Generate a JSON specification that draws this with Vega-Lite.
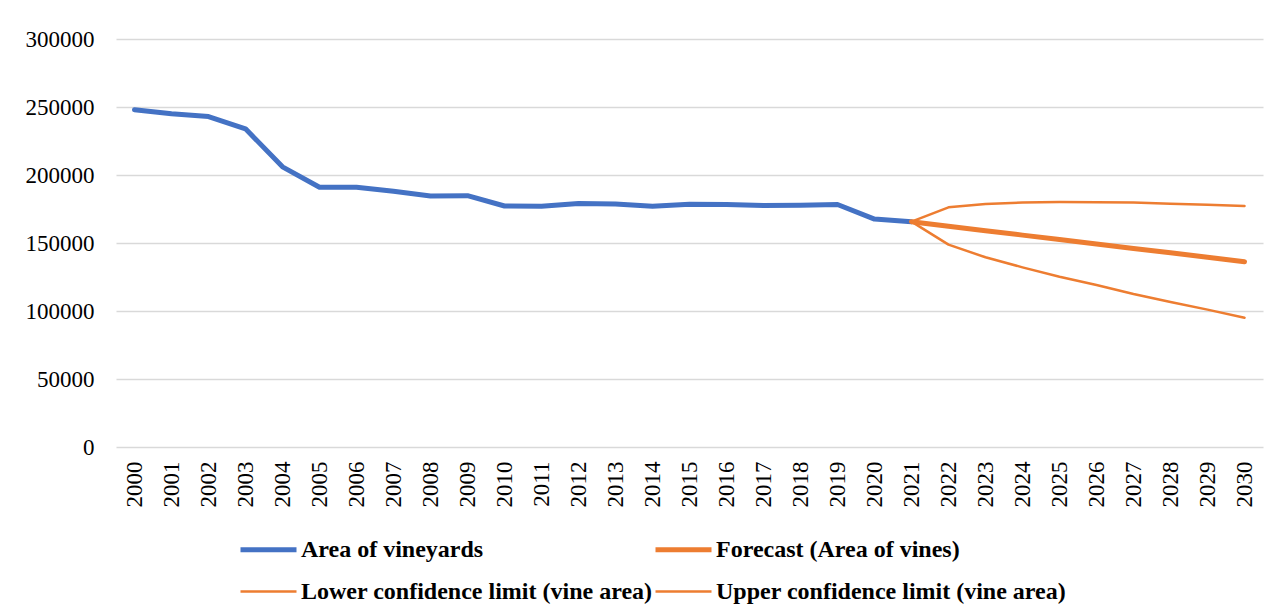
{
  "$schema": "https://vega.github.io/schema/vega-lite/v6.json",
  "width": 1147,
  "height": 408,
  "autosize": {"type": "none"},
  "padding": {"left": 116, "top": 39, "right": 24, "bottom": 169},
  "background": "white",
  "config": {
    "view": {"stroke": null},
    "font": "Liberation Serif",
    "axis": {"labelFont": "Liberation Serif", "labelFontSize": 23, "labelColor": "#000000"}
  },
  "data": {
    "values": [
      {"year": "2000", "series": "Area of vineyards", "value": 248000},
      {"year": "2001", "series": "Area of vineyards", "value": 245000},
      {"year": "2002", "series": "Area of vineyards", "value": 243000},
      {"year": "2003", "series": "Area of vineyards", "value": 234000},
      {"year": "2004", "series": "Area of vineyards", "value": 206000},
      {"year": "2005", "series": "Area of vineyards", "value": 191000},
      {"year": "2006", "series": "Area of vineyards", "value": 191000},
      {"year": "2007", "series": "Area of vineyards", "value": 188000},
      {"year": "2008", "series": "Area of vineyards", "value": 184500},
      {"year": "2009", "series": "Area of vineyards", "value": 184800},
      {"year": "2010", "series": "Area of vineyards", "value": 177200},
      {"year": "2011", "series": "Area of vineyards", "value": 177000},
      {"year": "2012", "series": "Area of vineyards", "value": 179000},
      {"year": "2013", "series": "Area of vineyards", "value": 178700},
      {"year": "2014", "series": "Area of vineyards", "value": 177000},
      {"year": "2015", "series": "Area of vineyards", "value": 178500},
      {"year": "2016", "series": "Area of vineyards", "value": 178300},
      {"year": "2017", "series": "Area of vineyards", "value": 177500},
      {"year": "2018", "series": "Area of vineyards", "value": 177700},
      {"year": "2019", "series": "Area of vineyards", "value": 178300},
      {"year": "2020", "series": "Area of vineyards", "value": 167600},
      {"year": "2021", "series": "Area of vineyards", "value": 165700},
      {"year": "2021", "series": "Forecast (Area of vines)", "value": 165700},
      {"year": "2022", "series": "Forecast (Area of vines)", "value": 162300},
      {"year": "2023", "series": "Forecast (Area of vines)", "value": 159000},
      {"year": "2024", "series": "Forecast (Area of vines)", "value": 155800},
      {"year": "2025", "series": "Forecast (Area of vines)", "value": 152600},
      {"year": "2026", "series": "Forecast (Area of vines)", "value": 149300},
      {"year": "2027", "series": "Forecast (Area of vines)", "value": 146000},
      {"year": "2028", "series": "Forecast (Area of vines)", "value": 142800},
      {"year": "2029", "series": "Forecast (Area of vines)", "value": 139500},
      {"year": "2030", "series": "Forecast (Area of vines)", "value": 136200},
      {"year": "2021", "series": "Lower confidence limit (vine area)", "value": 165700},
      {"year": "2022", "series": "Lower confidence limit (vine area)", "value": 148800},
      {"year": "2023", "series": "Lower confidence limit (vine area)", "value": 139500},
      {"year": "2024", "series": "Lower confidence limit (vine area)", "value": 132100},
      {"year": "2025", "series": "Lower confidence limit (vine area)", "value": 125200},
      {"year": "2026", "series": "Lower confidence limit (vine area)", "value": 119100},
      {"year": "2027", "series": "Lower confidence limit (vine area)", "value": 112500},
      {"year": "2028", "series": "Lower confidence limit (vine area)", "value": 106600},
      {"year": "2029", "series": "Lower confidence limit (vine area)", "value": 101000},
      {"year": "2030", "series": "Lower confidence limit (vine area)", "value": 95100},
      {"year": "2021", "series": "Upper confidence limit (vine area)", "value": 165700},
      {"year": "2022", "series": "Upper confidence limit (vine area)", "value": 176200},
      {"year": "2023", "series": "Upper confidence limit (vine area)", "value": 178700},
      {"year": "2024", "series": "Upper confidence limit (vine area)", "value": 179700},
      {"year": "2025", "series": "Upper confidence limit (vine area)", "value": 180100},
      {"year": "2026", "series": "Upper confidence limit (vine area)", "value": 179900},
      {"year": "2027", "series": "Upper confidence limit (vine area)", "value": 179700},
      {"year": "2028", "series": "Upper confidence limit (vine area)", "value": 178900},
      {"year": "2029", "series": "Upper confidence limit (vine area)", "value": 178200},
      {"year": "2030", "series": "Upper confidence limit (vine area)", "value": 177200}
    ]
  },
  "mark": {"type": "line", "strokeCap": "round", "strokeJoin": "round"},
  "encoding": {
    "x": {
      "field": "year",
      "type": "ordinal",
      "scale": {"type": "point", "padding": 0.5},
      "axis": {"title": null, "labelAngle": -90, "domain": false, "ticks": false, "grid": false, "labelPadding": 14, "labelFont": "Liberation Serif", "labelFontSize": 23, "labelColor": "#000000"}
    },
    "y": {
      "field": "value",
      "type": "quantitative",
      "scale": {"domain": [0, 300000], "nice": false},
      "axis": {"title": null, "values": [0, 50000, 100000, 150000, 200000, 250000, 300000], "format": "d", "domain": false, "ticks": false, "grid": true, "gridColor": "#d9d9d9", "gridWidth": 1.3, "labelPadding": 22, "labelFont": "Liberation Serif", "labelFontSize": 23, "labelColor": "#000000"}
    },
    "color": {
      "field": "series",
      "type": "nominal",
      "scale": {
        "domain": ["Area of vineyards", "Lower confidence limit (vine area)", "Forecast (Area of vines)", "Upper confidence limit (vine area)"],
        "range": ["#4472C4", "#ED7D31", "#ED7D31", "#ED7D31"]
      },
      "legend": {
        "title": null,
        "orient": "none",
        "legendX": 122,
        "legendY": 480,
        "columns": 2,
        "symbolType": "stroke",
        "symbolSize": 3136,
        "labelFont": "Liberation Serif",
        "labelFontWeight": "bold",
        "labelFontSize": 24,
        "labelColor": "#000000",
        "labelOffset": 2,
        "labelLimit": 600,
        "columnPadding": -9,
        "rowPadding": 0
      }
    },
    "strokeWidth": {
      "field": "series",
      "type": "nominal",
      "scale": {
        "type": "ordinal",
        "domain": ["Area of vineyards", "Lower confidence limit (vine area)", "Forecast (Area of vines)", "Upper confidence limit (vine area)"],
        "range": [5, 2.5, 5, 2.5]
      },
      "legend": null
    },
    "order": {"field": "year"}
  }
}
